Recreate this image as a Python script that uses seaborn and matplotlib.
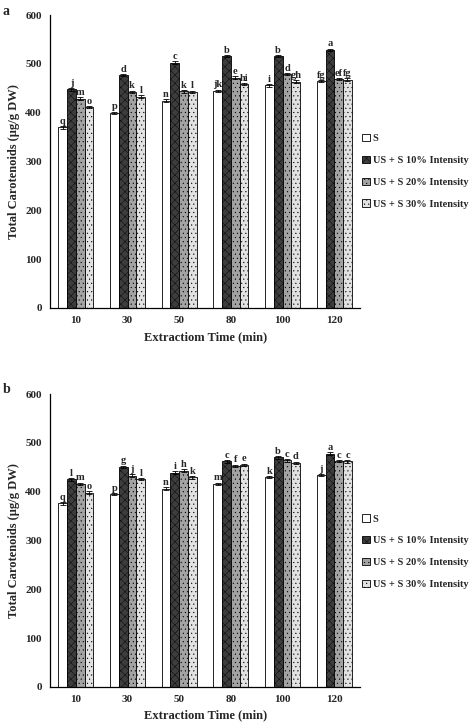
import numpy as np
import pandas as pd
import matplotlib
matplotlib.use("Agg")
import matplotlib.pyplot as plt
import seaborn as sns
from matplotlib.patches import Patch

# extraction times and treatments
times = ["10", "30", "50", "80", "100", "120"]
treatments = ["S", "US + S 10% Intensity", "US + S 20% Intensity", "US + S 30% Intensity"]

# panel a values (ug/g DW)
a_s = [370, 400, 425, 445, 456, 465]
a_us10 = [448, 477, 503, 516, 516, 529]
a_us20 = [429, 443, 444, 472, 479, 469]
a_us30 = [412, 433, 443, 459, 464, 468]
a_letters = [
    ["q", "p", "n", "jk", "i", "fg"],
    ["j", "d", "c", "b", "b", "a"],
    ["m", "k", "k", "e", "d", "ef"],
    ["o", "l", "l", "hi", "gh", "fg"],
]

# panel b values (ug/g DW)
b_s = [376, 395, 406, 416, 430, 434]
b_us10 = [425, 451, 439, 462, 470, 478]
b_us20 = [416, 433, 443, 453, 464, 463]
b_us30 = [398, 426, 429, 455, 459, 462]
b_letters = [
    ["q", "p", "n", "m", "k", "j"],
    ["l", "g", "i", "c", "b", "a"],
    ["m", "j", "h", "f", "c", "c"],
    ["o", "l", "k", "e", "d", "c"],
]

err = 2.5

colors = ["#ffffff", "#3d3d3d", "#a3a3a3", "#e2e2e2"]
hatches = [None, "xxxx", "....", "...."]

sns.set_style("white")
plt.rcParams["font.family"] = ["Liberation Serif", "DejaVu Serif"]
plt.rcParams["font.weight"] = "bold"
plt.rcParams["hatch.linewidth"] = 0.3


def make_df(series):
    rows = []
    for t, vals in zip(treatments, series):
        for tm, v in zip(times, vals):
            rows.append({"time": tm, "treatment": t, "value": v})
    return pd.DataFrame(rows)


def draw_panel(ax, series, letters):
    df = make_df(series)
    sns.barplot(data=df, x="time", y="value", hue="treatment", order=times,
                hue_order=treatments, palette=colors, edgecolor="black",
                linewidth=0.6, errorbar=None, width=0.68, ax=ax, legend=False)
    bars = list(ax.containers)
    for i, cont in enumerate(bars):
        xs = [p.get_x() + p.get_width() / 2 for p in cont]
        ax.errorbar(xs, series[i], yerr=err, fmt="none", ecolor="black",
                    elinewidth=0.6, capsize=2, capthick=0.6)
        if hatches[i]:
            for p in cont:
                p.set_hatch(hatches[i])
        ax.bar_label(cont, labels=letters[i], padding=1, fontsize=7.5,
                     fontweight="bold")
    ax.set_ylim(0, 600)
    ax.set_xlim(-0.5, 5.5)
    ax.set_yticks(range(0, 601, 100))
    ax.set_xlabel("Extractiom Time (min)", fontsize=9, fontweight="bold",
                  labelpad=4)
    ax.set_ylabel("Total Carotenoids (\u03bcg/g DW)", fontsize=9,
                  fontweight="bold", labelpad=4)
    ax.tick_params(axis="both", length=0, labelsize=8, pad=6)
    for lab in ax.get_xticklabels() + ax.get_yticklabels():
        lab.set_fontweight("bold")
    sns.despine(ax=ax)
    for s in ["left", "bottom"]:
        ax.spines[s].set_color("black")
        ax.spines[s].set_linewidth(0.9)


fig = plt.figure(figsize=(4.72, 7.23), dpi=100)
ax_a = fig.add_axes([0.106, 0.574, 0.657, 0.405])
ax_b = fig.add_axes([0.106, 0.050, 0.657, 0.405])

draw_panel(ax_a, [a_s, a_us10, a_us20, a_us30], a_letters)
draw_panel(ax_b, [b_s, b_us10, b_us20, b_us30], b_letters)

handles = [Patch(facecolor=c, edgecolor="black", linewidth=0.6, hatch=h)
           for c, h in zip(colors, hatches)]
for yc in [0.763, 0.237]:
    fig.legend(handles, treatments, loc="center left", bbox_to_anchor=(0.748, yc),
               frameon=False, handlelength=0.7, handleheight=0.7,
               handletextpad=0.3, labelspacing=1.2, prop={"weight": "bold", "size": 7.5})

fig.text(0.006, 0.993, "a", fontsize=10, fontweight="bold", va="top")
fig.text(0.006, 0.470, "b", fontsize=10, fontweight="bold", va="top")

fig.savefig("out.png", dpi=100)
